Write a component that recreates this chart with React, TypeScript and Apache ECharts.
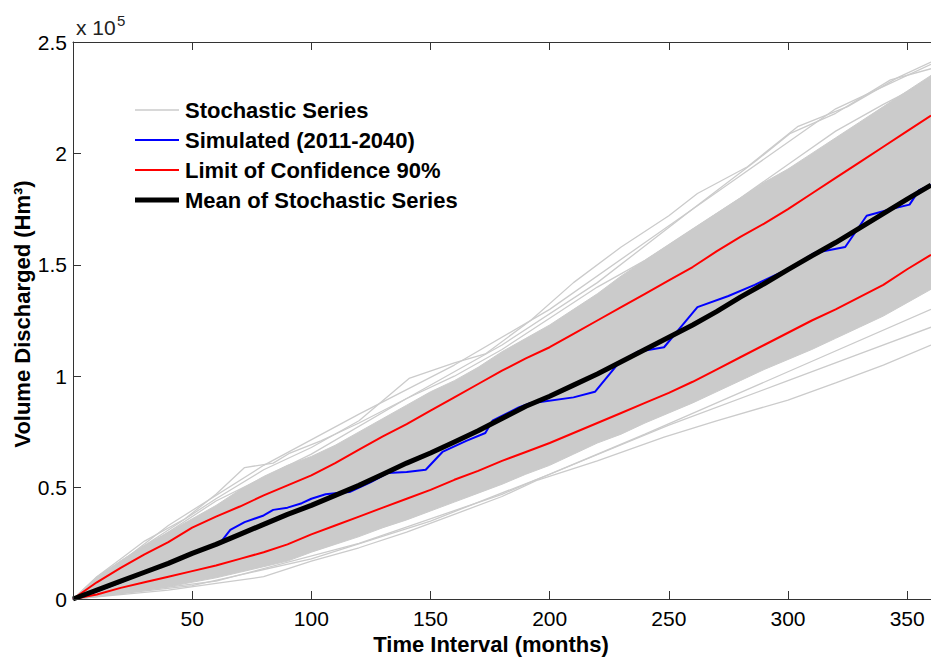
import React, { useEffect, useRef } from 'react';
import * as echarts from 'echarts';

// Values in units of 10^5 Hm³
const months = [0, 10, 20, 30, 40, 50, 60, 70, 80, 90, 100, 110, 120, 130, 140, 150, 160, 170, 180, 190, 200, 210, 220, 230, 240, 250, 260, 270, 280, 290, 300, 310, 320, 330, 340, 350, 360];

const meanSeries = [0, 0.04, 0.08, 0.12, 0.16, 0.205, 0.245, 0.29, 0.335, 0.38, 0.42, 0.465, 0.51, 0.56, 0.61, 0.655, 0.705, 0.755, 0.81, 0.865, 0.91, 0.96, 1.01, 1.065, 1.12, 1.175, 1.23, 1.29, 1.355, 1.415, 1.478, 1.54, 1.6, 1.665, 1.73, 1.795, 1.858];
const upperLimit = [0, 0.075, 0.14, 0.2, 0.255, 0.32, 0.37, 0.415, 0.465, 0.51, 0.555, 0.61, 0.67, 0.73, 0.785, 0.845, 0.905, 0.965, 1.025, 1.08, 1.13, 1.19, 1.25, 1.31, 1.37, 1.43, 1.49, 1.56, 1.625, 1.685, 1.75, 1.82, 1.89, 1.96, 2.03, 2.1, 2.17];
const lowerLimit = [0, 0.02, 0.05, 0.075, 0.1, 0.125, 0.15, 0.18, 0.21, 0.245, 0.29, 0.33, 0.37, 0.41, 0.45, 0.49, 0.535, 0.575, 0.62, 0.66, 0.7, 0.745, 0.79, 0.835, 0.88, 0.925, 0.975, 1.03, 1.085, 1.14, 1.195, 1.25, 1.3, 1.355, 1.41, 1.48, 1.545];
// dense envelope of the stochastic series
const bandUpper = [0, 0.1, 0.17, 0.24, 0.3, 0.36, 0.42, 0.49, 0.55, 0.6, 0.64, 0.69, 0.75, 0.81, 0.87, 0.93, 0.98, 1.04, 1.11, 1.17, 1.23, 1.3, 1.37, 1.45, 1.52, 1.59, 1.66, 1.73, 1.8, 1.87, 1.93, 2.0, 2.07, 2.14, 2.21, 2.28, 2.35];
const bandLower = [0, 0.01, 0.025, 0.04, 0.055, 0.075, 0.095, 0.12, 0.145, 0.17, 0.21, 0.245, 0.28, 0.32, 0.355, 0.395, 0.435, 0.475, 0.515, 0.56, 0.6, 0.65, 0.7, 0.74, 0.79, 0.835, 0.88, 0.93, 0.98, 1.03, 1.075, 1.12, 1.17, 1.22, 1.27, 1.33, 1.39];

const simMonths = [0, 10, 20, 30, 40, 50, 60, 62, 66, 72, 80, 84, 90, 96, 100, 106, 111, 116, 125, 132, 140, 148, 155, 165, 173, 176, 187, 192, 196, 210, 219, 229, 237, 248, 255, 262, 275, 286, 300, 311, 324, 333, 345, 351, 355, 360];
const simValues = [0, 0.035, 0.075, 0.12, 0.16, 0.205, 0.245, 0.255, 0.31, 0.345, 0.375, 0.4, 0.41, 0.43, 0.45, 0.47, 0.476, 0.48, 0.525, 0.565, 0.57, 0.58, 0.66, 0.71, 0.745, 0.8, 0.86, 0.88, 0.884, 0.905, 0.93, 1.06, 1.11, 1.13, 1.22, 1.31, 1.36, 1.41, 1.48, 1.553, 1.58, 1.72, 1.755, 1.77, 1.835, 1.858];

// individual stochastic series outside the dense band
const stochAMonths = [0, 20, 40, 60, 80, 100, 120, 141, 160, 173, 192, 210, 230, 250, 262, 283, 304, 325, 346, 360];
const stochAValues = [0, 0.17, 0.31, 0.45, 0.58, 0.68, 0.8, 0.99, 1.06, 1.1, 1.25, 1.42, 1.58, 1.72, 1.82, 1.94, 2.12, 2.21, 2.34, 2.41];
const stochBMonths = [0, 30, 60, 100, 140, 180, 220, 260, 287, 301, 320, 343, 360];
const stochBValues = [0, 0.23, 0.44, 0.65, 0.9, 1.14, 1.42, 1.75, 1.97, 2.09, 2.18, 2.33, 2.38];
const stochCMonths = [0, 10, 20, 30, 47, 60, 72, 84, 91, 104, 120, 140, 160, 180, 200, 220, 240, 260, 280, 300, 320, 340, 360];
const stochCValues = [0, 0.1, 0.18, 0.26, 0.36, 0.47, 0.59, 0.61, 0.655, 0.71, 0.79, 0.9, 1.0, 1.12, 1.26, 1.4, 1.52, 1.66, 1.8, 1.95, 2.1, 2.22, 2.33];
const stochDMonths = [0, 20, 40, 60, 80, 100, 120, 140, 160, 180, 195, 220, 248, 270, 300, 320, 340, 360];
const stochDValues = [0, 0.02, 0.04, 0.07, 0.1, 0.17, 0.23, 0.3, 0.38, 0.46, 0.534, 0.62, 0.727, 0.8, 0.893, 0.97, 1.05, 1.14];
const stochEMonths = [0, 50, 100, 150, 200, 250, 300, 330, 360];
const stochEValues = [0, 0.06, 0.18, 0.35, 0.56, 0.78, 0.98, 1.1, 1.22];
const stochFMonths = [0, 60, 120, 180, 240, 300, 360];
const stochFValues = [0, 0.08, 0.25, 0.47, 0.74, 1.02, 1.3];
const stochGMonths = [0, 40, 80, 120, 160, 200, 240, 280, 320, 360];
const stochGValues = [0, 0.33, 0.6, 0.83, 1.05, 1.3, 1.6, 1.9, 2.2, 2.4];

const xTicks = { min: 0, max: 360, interval: 50 };
const yTicks = { min: 0, max: 2.5, interval: 0.5 };

const legendNames = ['Stochastic Series', 'Simulated (2011-2040)', 'Limit of Confidence 90%', 'Mean of Stochastic Series'];
const legendColors = ['#cbcbcb', '#0000ff', '#ff0000', '#000000'];
const legendWidths = [1.5, 2, 2, 5];

export default function App() {
  const ref = useRef<HTMLDivElement>(null);
  useEffect(() => {
    const chart = echarts.init(ref.current as HTMLDivElement, null, { renderer: 'svg' });
    const pairs = (xs: number[], ys: number[]) => xs.map((x, i) => [x, ys[i]]);
    const font = 'Arial, "Liberation Sans", Helvetica, sans-serif';
    const gray = '#cbcbcb';
    const axisColor = '#333333';
    const stoch = [
      [stochAMonths, stochAValues],
      [stochBMonths, stochBValues],
      [stochCMonths, stochCValues],
      [stochGMonths, stochGValues],
      [stochDMonths, stochDValues],
      [stochEMonths, stochEValues],
      [stochFMonths, stochFValues],
    ];
    const axisCommon = {
      type: 'value',
      z: 10,
      axisLine: { show: true, lineStyle: { color: axisColor, width: 1 } },
      axisTick: { show: true, inside: true, length: 8, lineStyle: { color: axisColor } },
      splitLine: { show: false },
    };
    const legendGraphics: any[] = [];
    legendNames.forEach((name, i) => {
      const y = 110 + i * 30;
      legendGraphics.push({
        type: 'line', shape: { x1: 135, y1: y, x2: 179, y2: y },
        style: { stroke: legendColors[i], lineWidth: legendWidths[i] }, z: 20,
      });
      legendGraphics.push({
        type: 'text', x: 185, y: y,
        style: { text: name, fontSize: 22, fontWeight: 'bold', fontFamily: font, fill: '#000', verticalAlign: 'middle', align: 'left' }, z: 20,
      });
    });
    const option: any = {
      animation: false,
      textStyle: { fontFamily: font },
      grid: { left: 73, top: 42, width: 860, height: 557 },
      xAxis: [
        {
          ...axisCommon,
          ...xTicks,
          position: 'bottom',
          axisLabel: {
            fontSize: 21,
            color: '#000',
            margin: 9,
            formatter: (v: number) => (v === 0 ? '' : String(v)),
          },
        },
        {
          ...axisCommon,
          ...xTicks,
          position: 'top',
          axisLabel: { show: false },
        },
      ],
      yAxis: [
        {
          ...axisCommon,
          ...yTicks,
          axisLabel: { fontSize: 21, color: '#000', margin: 6 },
        },
      ],
      graphic: [
        { type: 'text', x: 76, y: 27, style: { text: 'x 10', fontSize: 21, fontFamily: font, fill: '#222', verticalAlign: 'middle', align: 'left' } },
        { type: 'text', x: 117, y: 20, style: { text: '5', fontSize: 15, fontFamily: font, fill: '#222', verticalAlign: 'middle', align: 'left' } },
        { type: 'text', x: 491, y: 644, style: { text: 'Time Interval (months)', fontSize: 22, fontWeight: 'bold', fontFamily: font, fill: '#000', verticalAlign: 'middle', align: 'center' } },
        { type: 'text', x: 22, y: 314, rotation: Math.PI / 2, style: { text: 'Volume Discharged (Hm³)', fontSize: 22, fontWeight: 'bold', fontFamily: font, fill: '#000', verticalAlign: 'middle', align: 'center' } },
        ...legendGraphics,
      ],
      series: [
        {
          name: 'Stochastic band', type: 'custom', silent: true, z: 1, clip: true,
          data: [[0, 0]],
          renderItem: (_params: any, api: any) => {
            const top = months.map((m, i) => api.coord([m, bandUpper[i]]));
            const bottom = months.map((m, i) => api.coord([m, bandLower[i]])).reverse();
            return { type: 'polygon', shape: { points: [...top, ...bottom] }, style: { fill: gray, stroke: gray, lineWidth: 1 } };
          },
        },
        ...stoch.map(([xs, ys]) => ({
          name: 'Stochastic Series', type: 'line', symbol: 'none', silent: true,
          data: pairs(xs, ys), lineStyle: { color: gray, width: 1.3 }, itemStyle: { color: gray }, z: 2,
        })),
        {
          name: 'Limit of Confidence 90%', type: 'line', symbol: 'none',
          data: pairs(months, upperLimit), lineStyle: { color: '#ff0000', width: 2 }, itemStyle: { color: '#ff0000' }, z: 3,
        },
        {
          name: 'Limit of Confidence 90%', type: 'line', symbol: 'none',
          data: pairs(months, lowerLimit), lineStyle: { color: '#ff0000', width: 2 }, itemStyle: { color: '#ff0000' }, z: 3,
        },
        {
          name: 'Simulated (2011-2040)', type: 'line', symbol: 'none',
          data: pairs(simMonths, simValues), lineStyle: { color: '#0000ff', width: 2 }, itemStyle: { color: '#0000ff' }, z: 4,
        },
        {
          name: 'Mean of Stochastic Series', type: 'line', symbol: 'none',
          data: pairs(months, meanSeries), lineStyle: { color: '#000000', width: 5 }, itemStyle: { color: '#000000' }, z: 5,
        },
      ],
    };
    chart.setOption(option);
    return () => chart.dispose();
  }, []);
  return <div ref={ref} style={{ position: 'absolute', left: 0, top: 0, width: 931, height: 662 }} />;
}
